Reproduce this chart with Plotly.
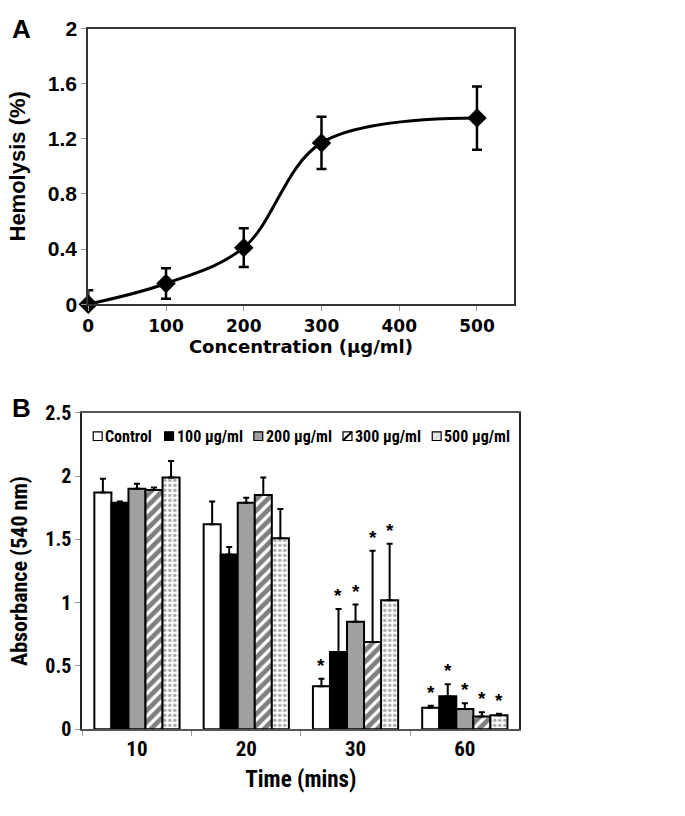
import plotly.graph_objects as go

W, H = 685, 816

# ---------------- Panel A data ----------------
conc = [0, 100, 200, 300, 500]
hemolysis = [0.0, 0.15, 0.41, 1.17, 1.35]
hemolysis_err = [0.10, 0.11, 0.14, 0.19, 0.23]
conc_ticks = [0, 100, 200, 300, 400, 500]
hemo_ticks = [0, 0.4, 0.8, 1.2, 1.6, 2]

# ---------------- Panel B data ----------------
times = ["10", "20", "30", "60"]
series_names = ["Control", "100 µg/ml", "200 µg/ml", "300 µg/ml", "500 µg/ml"]
abs_control = [1.87, 1.62, 0.34, 0.17]
abs_100 = [1.79, 1.38, 0.61, 0.26]
abs_200 = [1.90, 1.79, 0.85, 0.16]
abs_300 = [1.89, 1.85, 0.69, 0.10]
abs_500 = [1.99, 1.51, 1.02, 0.11]
err_control = [0.11, 0.18, 0.06, 0.015]
err_100 = [0.01, 0.06, 0.34, 0.095]
err_200 = [0.04, 0.04, 0.135, 0.045]
err_300 = [0.02, 0.14, 0.72, 0.035]
err_500 = [0.13, 0.23, 0.445, 0.012]
sig_control = [False, False, True, True]
sig_100 = [False, False, True, True]
sig_200 = [False, False, True, True]
sig_300 = [False, False, True, True]
sig_500 = [False, False, True, True]
abs_ticks = [0, 0.5, 1, 1.5, 2, 2.5]

values = [abs_control, abs_100, abs_200, abs_300, abs_500]
errors = [err_control, err_100, err_200, err_300, err_500]
sigs = [sig_control, sig_100, sig_200, sig_300, sig_500]

# ---------------- styles ----------------
ARIAL = "Liberation Sans, Arial, sans-serif"
WIDEF = "DejaVu Sans, Verdana, sans-serif"
NARROW = "Liberation Sans Narrow, Arial Narrow, Roboto Condensed, Liberation Sans, sans-serif"

bar_styles = [
    dict(color="white"),
    dict(color="black"),
    dict(color="#a0a0a0"),
    dict(color="white", pattern=dict(shape="/", fgcolor="black", bgcolor="white", size=8, solidity=0.6)),
    dict(color="white", pattern=dict(shape=".", fgcolor="#555555", bgcolor="white", size=5, solidity=0.4)),
]
BARGAP = 0.22


def px_x(p):
    return p / W


def px_y(p):
    return 1 - p / H


fig = go.Figure()

# Panel A: smoothed line with error bars (clipped) + markers (unclipped)
fig.add_trace(go.Scatter(
    x=conc, y=hemolysis, mode="lines",
    line=dict(color="black", width=3, shape="spline", smoothing=1.0),
    error_y=dict(type="data", array=hemolysis_err, color="black", thickness=2.5, width=5),
    xaxis="x", yaxis="y", showlegend=False, cliponaxis=True,
))
fig.add_trace(go.Scatter(
    x=conc, y=hemolysis, mode="markers",
    marker=dict(symbol="diamond", size=15, color="black"),
    xaxis="x", yaxis="y", showlegend=False, cliponaxis=False,
))

# Panel B: grouped bars
for name, vals, errs, st in zip(series_names, values, errors, bar_styles):
    marker = dict(st)
    marker["line"] = dict(color="black", width=2)
    fig.add_trace(go.Bar(
        x=times, y=vals, name=name, xaxis="x2", yaxis="y2",
        marker=marker,
        error_y=dict(type="data", symmetric=False, array=errs, arrayminus=[0] * len(errs),
                     color="black", thickness=2, width=3),
        showlegend=False,
    ))

annotations = []
shapes = []

# significance stars
ngr = len(series_names)
group_w = 1 - BARGAP
bw = group_w / ngr
for si, (vals, errs, sg) in enumerate(zip(values, errors, sigs)):
    for gi, (v, e, s) in enumerate(zip(vals, errs, sg)):
        if s:
            annotations.append(dict(
                x=gi - group_w / 2 + bw * (si + 0.5), y=v + e, xref="x2", yref="y2",
                text="*", showarrow=False, yanchor="bottom", yshift=1,
                font=dict(family=ARIAL, size=19, color="black", weight="bold"),
            ))

# custom legend (keys + labels)
key_left = [88, 160, 250, 340, 430]
for i, name in enumerate(series_names):
    x0 = key_left[i]
    yc = 437
    fill = ["white", "black", "#a0a0a0", "white", "#e4e4e4"][i]
    shapes.append(dict(type="rect", xref="paper", yref="paper",
                       x0=px_x(x0), x1=px_x(x0 + 9), y0=px_y(yc + 4.5), y1=px_y(yc - 4.5),
                       fillcolor=fill, line=dict(color="black", width=1.2)))
    if i == 3:
        shapes.append(dict(type="line", xref="paper", yref="paper",
                           x0=px_x(x0), x1=px_x(x0 + 9), y0=px_y(yc + 4.5), y1=px_y(yc - 4.5),
                           line=dict(color="black", width=2)))
    annotations.append(dict(
        x=px_x(x0 + 10), y=px_y(yc), xref="paper", yref="paper", text=name,
        showarrow=False, xanchor="left", yanchor="middle",
        font=dict(family=NARROW, size=16, color="black", weight="bold"),
    ))

# panel letters
annotations.append(dict(x=px_x(4), y=px_y(17), xref="paper", yref="paper", text="A",
                        showarrow=False, xanchor="left", yanchor="middle",
                        font=dict(family=ARIAL, size=26, color="black", weight="bold")))
annotations.append(dict(x=px_x(4), y=px_y(408), xref="paper", yref="paper", text="B",
                        showarrow=False, xanchor="left", yanchor="middle",
                        font=dict(family=ARIAL, size=26, color="black", weight="bold")))

fig.update_layout(
    width=W, height=H,
    margin=dict(l=0, r=0, t=0, b=0),
    paper_bgcolor="white", plot_bgcolor="white",
    barmode="group", bargap=BARGAP, bargroupgap=0,
    showlegend=False,
    annotations=annotations,
    shapes=shapes,
    xaxis=dict(
        domain=[px_x(83), px_x(512)], range=[0, 547], anchor="y",
        tickvals=conc_ticks, ticks="outside", ticklen=5, tickcolor="#999", tickwidth=1,
        showline=True, mirror=True, linecolor="#333", linewidth=2, showgrid=False, zeroline=False,
        tickfont=dict(family=WIDEF, size=17, color="black", weight="bold"),
        title=dict(text="Concentration (µg/ml)", standoff=3,
                   font=dict(family=WIDEF, size=18, color="black", weight="bold")),
    ),
    yaxis=dict(
        domain=[px_y(301), px_y(17)], range=[0, 2], anchor="x",
        tickvals=hemo_ticks, ticks="outside", ticklen=5, tickcolor="#999", tickwidth=1,
        showline=True, mirror=True, linecolor="#333", linewidth=2, showgrid=False, zeroline=False,
        tickfont=dict(family=ARIAL, size=21, color="black", weight="bold"),
        title=dict(text="Hemolysis (%)", standoff=16,
                   font=dict(family=ARIAL, size=22, color="black", weight="bold")),
    ),
    xaxis2=dict(
        domain=[px_x(77), px_x(518)], anchor="y2", type="category",
        tickson="boundaries", ticks="outside", ticklen=5, tickcolor="#999", tickwidth=1,
        showline=True, mirror=True, linecolor="#555", linewidth=2, showgrid=False,
        tickfont=dict(family=NARROW, size=21, color="black", weight="bold"),
        title=dict(text="Time (mins)", standoff=10,
                   font=dict(family=NARROW, size=23, color="black", weight="bold")),
    ),
    yaxis2=dict(
        domain=[px_y(739), px_y(413)], range=[0, 2.5], anchor="x2",
        tickvals=abs_ticks, ticks="outside", ticklen=5, tickcolor="#999", tickwidth=1,
        showline=True, mirror=True, linecolor="#222", linewidth=2, showgrid=False, zeroline=False,
        tickfont=dict(family=NARROW, size=20, color="black", weight="bold"),
        title=dict(text="Absorbance (540 nm)", standoff=12,
                   font=dict(family=NARROW, size=22, color="black", weight="bold")),
    ),
)

fig.write_html("out.html", config={"displayModeBar": False},
               post_script="document.body.style.margin='0';")
